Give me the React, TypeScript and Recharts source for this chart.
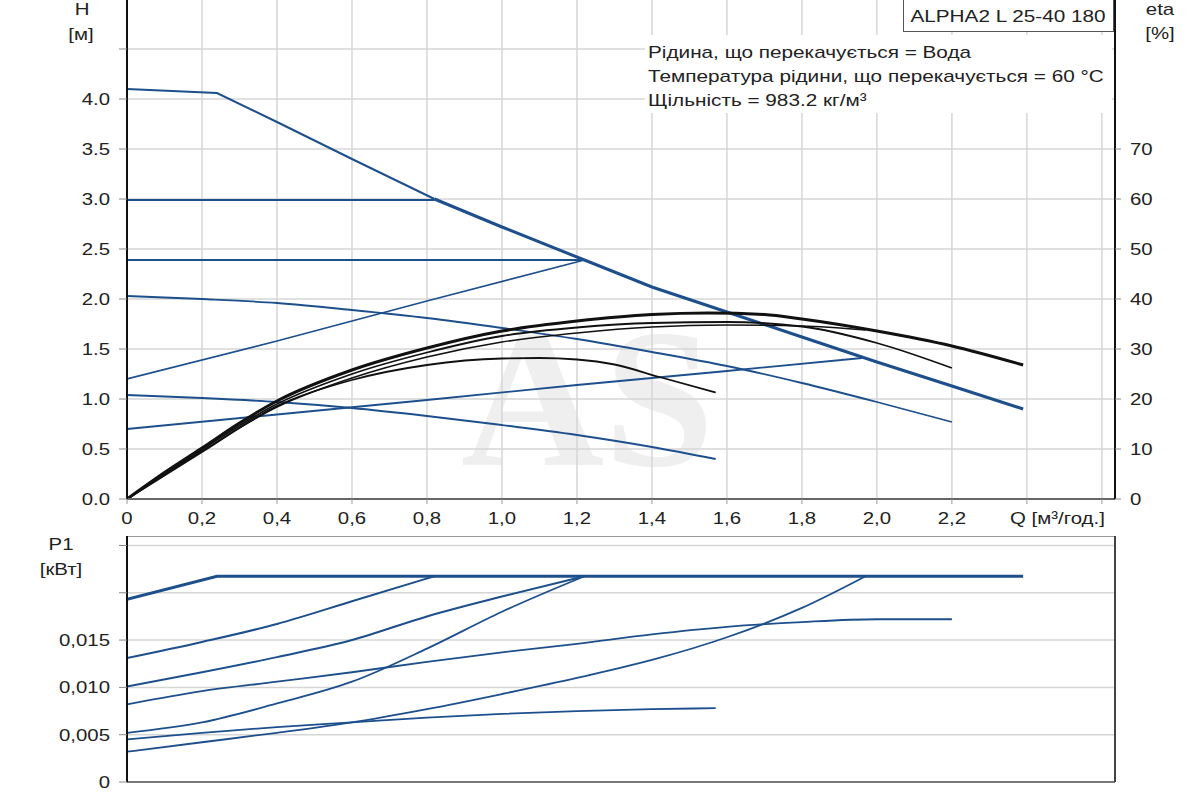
import React from 'react';
import { CartesianGrid, Line, LineChart, ReferenceLine, XAxis, YAxis } from 'recharts';

// Q axis [m³/h] shared by both panels
const qTicks = [0, 0.2, 0.4, 0.6, 0.8, 1.0, 1.2, 1.4, 1.6, 1.8, 2.0, 2.2, 2.4, 2.6];
const hTicks = [0, 0.5, 1.0, 1.5, 2.0, 2.5, 3.0, 3.5, 4.0, 4.5];
const etaTicks = [0, 10, 20, 30, 40, 50, 60, 70];
const p1Ticks = [0, 0.005, 0.01, 0.015, 0.02, 0.025];

// H curves [m], pairs of [Q, H]
const maxCurveH = [[0, 4.1], [0.24, 4.06], [0.4, 3.77], [0.6, 3.4], [0.82, 3.0], [1.0, 2.72], [1.22, 2.39], [1.4, 2.12], [1.6, 1.87], [1.8, 1.62], [2.0, 1.37], [2.2, 1.13], [2.39, 0.9]];
const constHighH = [[0, 2.99], [0.82, 2.99]];
const constLowH = [[0, 2.39], [1.22, 2.39]];
const propHighH = [[0, 1.2], [0.4, 1.58], [0.8, 1.98], [1.22, 2.39]];
const propLowH = [[0, 0.7], [0.4, 0.845], [0.8, 0.99], [1.2, 1.14], [1.6, 1.28], [1.96, 1.41]];
const speed2H = [[0, 2.03], [0.2, 2.0], [0.4, 1.96], [0.6, 1.89], [0.8, 1.81], [1.0, 1.71], [1.2, 1.6], [1.4, 1.47], [1.6, 1.33], [1.8, 1.16], [2.0, 0.97], [2.2, 0.77]];
const speed1H = [[0, 1.04], [0.2, 1.01], [0.4, 0.97], [0.6, 0.91], [0.8, 0.83], [1.0, 0.74], [1.2, 0.64], [1.4, 0.52], [1.57, 0.4]];

// efficiency curves [%]
const etaMax = [[0, 0], [0.1, 5.3], [0.2, 10.2], [0.3, 15.2], [0.4, 19.6], [0.6, 25.8], [0.8, 30.2], [1.0, 33.6], [1.2, 35.6], [1.4, 36.9], [1.55, 37.2], [1.7, 36.9], [1.8, 36.0], [2.0, 33.6], [2.2, 30.6], [2.39, 26.8]];
const etaB = [[0, 0], [0.2, 9.9], [0.4, 19.0], [0.6, 25.0], [0.8, 29.3], [1.0, 32.6], [1.2, 34.3], [1.4, 35.2], [1.6, 35.4], [1.8, 34.5], [2.0, 31.2], [2.2, 26.2]];
const etaC = [[0, 0], [0.2, 9.6], [0.4, 18.4], [0.6, 24.2], [0.8, 28.4], [1.0, 31.4], [1.2, 33.2], [1.4, 34.4], [1.6, 34.8], [1.8, 34.6], [1.97, 33.8]];
const etaD = [[0, 0], [0.2, 9.4], [0.4, 18.6], [0.6, 23.8], [0.8, 26.8], [1.0, 28.1], [1.1, 28.2], [1.2, 27.9], [1.3, 26.9], [1.42, 24.4], [1.57, 21.3]];

// P1 curves [kW]
const p1Max = [[0, 0.0193], [0.24, 0.02175], [2.39, 0.02175]];
const p1ConstHigh = [[0, 0.0131], [0.2, 0.0148], [0.4, 0.0167], [0.6, 0.0191], [0.82, 0.02175]];
const p1ConstLow = [[0, 0.0101], [0.2, 0.0116], [0.4, 0.0132], [0.6, 0.015], [0.8, 0.0175], [1.0, 0.0196], [1.22, 0.02175]];
const p1PropHigh = [[0, 0.0052], [0.2, 0.0063], [0.4, 0.0083], [0.6, 0.0106], [0.8, 0.0141], [1.0, 0.018], [1.22, 0.02175]];
const p1PropLow = [[0, 0.0032], [0.2, 0.0042], [0.4, 0.0052], [0.6, 0.0063], [0.8, 0.0077], [1.0, 0.0093], [1.2, 0.011], [1.4, 0.0129], [1.6, 0.0153], [1.8, 0.0184], [1.97, 0.02175]];
const p1Speed2 = [[0, 0.0082], [0.2, 0.0096], [0.4, 0.0106], [0.6, 0.0116], [0.8, 0.0127], [1.0, 0.0137], [1.2, 0.0146], [1.4, 0.0156], [1.6, 0.0164], [1.8, 0.0169], [2.0, 0.0172], [2.2, 0.0172]];
const p1Speed1 = [[0, 0.0045], [0.2, 0.0052], [0.4, 0.0058], [0.6, 0.0063], [0.8, 0.0068], [1.0, 0.0072], [1.2, 0.0075], [1.4, 0.0077], [1.57, 0.0078]];

const infoLines = [
  'Рідина, що перекачується = Вода',
  'Температура рідини, що перекачується = 60 °C',
  'Щільність = 983.2 кг/м³',
];

const toPts = (arr: number[][]) => arr.map(([q, v]) => ({ q, v }));

const BLUE = '#1d4f8c';
const GRID = '#d6d6d6';
const FONT = '"Liberation Sans", Arial, sans-serif';
const Q_MAX = 2.635;
// the source picture is stretched sideways, so all text gets a horizontal scale
const STRETCH = 1.2;
const FS = 17;

const comma = (v: number, digits: number) => (v === 0 ? '0' : v.toFixed(digits).replace('.', ','));
const fmtQ = (v: number) => (v > 2.21 ? '' : comma(v, 1));
const fmtH = (v: number) => (v > 4.1 ? '' : v.toFixed(1));
const fmtEta = (v: number) => `${v}`;
const fmtP1 = (v: number) => (v > 0.016 ? '' : comma(v, 3));

function makeTick(fmt: (v: number) => string, anchor: 'start' | 'middle' | 'end', dy: string) {
  return (props: any) => {
    const { x, y, payload } = props;
    const txt = fmt(payload.value);
    if (!txt) return <g />;
    return (
      <g transform={`translate(${x},${y})`}>
        <text transform={`scale(${STRETCH},1)`} textAnchor={anchor} dy={dy} fontSize={FS} fill="#222" fontFamily={FONT}>
          {txt}
        </text>
      </g>
    );
  };
}

const qTick = makeTick(fmtQ, 'middle', '0.71em');
const hTick = makeTick(fmtH, 'end', '0.355em');
const etaTick = makeTick(fmtEta, 'start', '0.355em');
const p1Tick = makeTick(fmtP1, 'end', '0.355em');

// axis titles are plain positioned text, centred on x
const label = (left: number, top: number): React.CSSProperties => ({
  position: 'absolute',
  left,
  top,
  fontSize: FS,
  lineHeight: `${FS}px`,
  color: '#222',
  transform: `translateX(-50%) scaleX(${STRETCH})`,
  whiteSpace: 'nowrap',
});

export default function App() {
  const blueLine = (key: string, arr: number[][], width = 2, type: 'linear' | 'monotone' = 'linear', axis = 'h') => (
    <Line
      key={key}
      yAxisId={axis}
      data={toPts(arr)}
      dataKey="v"
      type={type}
      stroke={BLUE}
      strokeWidth={width}
      dot={false}
      isAnimationActive={false}
    />
  );
  const etaLine = (key: string, arr: number[][], width: number) => (
    <Line
      key={key}
      yAxisId="eta"
      data={toPts(arr)}
      dataKey="v"
      type="monotone"
      stroke="#111"
      strokeWidth={width}
      dot={false}
      isAnimationActive={false}
    />
  );

  return (
    <div style={{ position: 'absolute', left: 0, top: 0, width: 1200, height: 800, background: '#fff', fontFamily: FONT, overflow: 'hidden' }}>
      {/* watermark */}
      <svg width={1200} height={520} style={{ position: 'absolute', left: 0, top: 0 }}>
        <text x={461} y={465} fontSize={198} fontWeight="bold" fontFamily='"Liberation Serif", serif' fill="#efefef">
          AS
        </text>
      </svg>

      <div style={{ position: 'absolute', left: 0, top: -1 }}>
        <LineChart width={1200} height={530} margin={{ top: 0, right: 35, bottom: 0, left: 67 }}>
          <CartesianGrid yAxisId="h" stroke={GRID} strokeWidth={1.5} />
          <XAxis
            dataKey="q"
            type="number"
            domain={[0, Q_MAX]}
            ticks={qTicks}
            interval={0}
            allowDataOverflow
            height={30}
            tickSize={5}
            tickMargin={8}
            tick={qTick}
            axisLine={{ stroke: '#666', strokeWidth: 2 }}
            tickLine={{ stroke: '#999' }}
          />
          <YAxis
            yAxisId="h"
            domain={[0, 5]}
            ticks={hTicks}
            interval={0}
            width={60}
            tickSize={8}
            tickMargin={9}
            tick={hTick}
            axisLine={{ stroke: '#111', strokeWidth: 2 }}
            tickLine={{ stroke: '#888' }}
          />
          <YAxis
            yAxisId="eta"
            orientation="right"
            domain={[0, 100]}
            ticks={etaTicks}
            interval={0}
            width={50}
            tickSize={6}
            tickMargin={9}
            tick={etaTick}
            axisLine={{ stroke: '#111', strokeWidth: 2 }}
            tickLine={{ stroke: '#888' }}
          />
          <ReferenceLine yAxisId="h" y={5} stroke="#999" strokeWidth={2} />

          {blueLine('max-a', maxCurveH.filter(([q]) => q <= 0.82))}
          {blueLine('max-b', maxCurveH.filter(([q]) => q >= 0.82), 3)}
          {blueLine('const-high', constHighH)}
          {blueLine('const-low', constLowH)}
          {blueLine('prop-high', propHighH, 1.8)}
          {blueLine('prop-low', propLowH, 1.8)}
          {blueLine('speed2', speed2H, 1.8, 'monotone')}
          {blueLine('speed1', speed1H, 1.8, 'monotone')}

          {etaLine('eta-d', etaD, 1.8)}
          {etaLine('eta-c', etaC, 1.6)}
          {etaLine('eta-b', etaB, 1.8)}
          {etaLine('eta-max', etaMax, 3)}
        </LineChart>
      </div>

      {/* axis titles, top panel */}
      <div style={label(82, 1)}>H</div>
      <div style={label(81, 26)}>[м]</div>
      <div style={label(1160, 1)}>eta</div>
      <div style={label(1160, 25)}>[%]</div>
      <div style={{ ...label(1010, 510), transform: `scaleX(${STRETCH})`, transformOrigin: 'left' }}>Q [м³/год.]</div>

      {/* model box */}
      <div
        style={{
          position: 'absolute',
          left: 903,
          top: -2,
          width: 209,
          height: 32,
          border: '1.5px solid #555',
          background: '#fff',
          fontSize: FS,
          color: '#222',
          lineHeight: '36px',
          textAlign: 'center',
        }}
      >
        <span style={{ display: 'inline-block', transform: 'scaleX(1.22)' }}>ALPHA2 L 25-40 180</span>
      </div>

      {/* fluid info */}
      <div
        style={{
          position: 'absolute',
          left: 645,
          top: 35,
          width: 467,
          height: 78,
          background: '#fff',
          paddingLeft: 3,
          paddingTop: 6,
          fontSize: FS,
          color: '#222',
          lineHeight: '24px',
          boxSizing: 'border-box',
        }}
      >
        {infoLines.map((t) => (
          <div key={t} style={{ whiteSpace: 'nowrap', transform: 'scaleX(1.22)', transformOrigin: 'left' }}>
            {t}
          </div>
        ))}
      </div>

      <div style={{ position: 'absolute', left: 0, top: 536 }}>
        <LineChart width={1200} height={262} margin={{ top: 0, right: 35, bottom: 0, left: 67 }}>
          <CartesianGrid yAxisId="p" stroke={GRID} strokeWidth={1.5} />
          <XAxis
            dataKey="q"
            type="number"
            domain={[0, Q_MAX]}
            ticks={qTicks}
            interval={0}
            allowDataOverflow
            height={16}
            tick={false}
            tickLine={false}
            axisLine={{ stroke: '#777', strokeWidth: 2 }}
          />
          <YAxis
            yAxisId="p"
            domain={[0, 0.026]}
            ticks={p1Ticks}
            interval={0}
            width={60}
            tickSize={8}
            tickMargin={9}
            tick={p1Tick}
            axisLine={{ stroke: '#111', strokeWidth: 2 }}
            tickLine={{ stroke: '#888' }}
          />
          <YAxis yAxisId="r" orientation="right" width={50} tick={false} tickLine={false} axisLine={{ stroke: '#444', strokeWidth: 2 }} />
          <ReferenceLine yAxisId="p" y={0.026} stroke="#999" strokeWidth={2} />

          {blueLine('p1-max', p1Max, 3, 'linear', 'p')}
          {blueLine('p1-const-high', p1ConstHigh, 2, 'monotone', 'p')}
          {blueLine('p1-const-low', p1ConstLow, 2, 'monotone', 'p')}
          {blueLine('p1-prop-high', p1PropHigh, 1.8, 'monotone', 'p')}
          {blueLine('p1-prop-low', p1PropLow, 1.8, 'monotone', 'p')}
          {blueLine('p1-speed2', p1Speed2, 1.8, 'monotone', 'p')}
          {blueLine('p1-speed1', p1Speed1, 1.8, 'monotone', 'p')}
        </LineChart>
      </div>

      <div style={label(61, 536)}>P1</div>
      <div style={label(61, 561)}>[кВт]</div>
    </div>
  );
}
